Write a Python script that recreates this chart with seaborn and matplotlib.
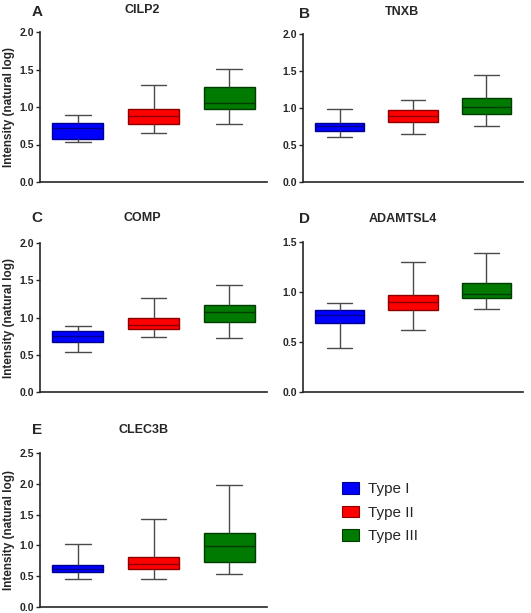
"""
Five-panel box plot figure: extracellular matrix protein intensity
(natural log) across Type I / II / III groups.
"""

import numpy as np
import matplotlib.pyplot as plt
import seaborn as sns
import pandas as pd

# -----------------------------------------------------------------------------
# Data: five-number summaries (min, Q1, median, Q3, max)
# -----------------------------------------------------------------------------

types = ['Type I', 'Type II', 'Type III']
genes = ['CILP2', 'TNXB', 'COMP', 'ADAMTSL4', 'CLEC3B']
letters = ['A', 'B', 'C', 'D', 'E']

cilp2 = [[0.53, 0.58, 0.72, 0.79, 0.89],
         [0.65, 0.78, 0.88, 0.98, 1.29],
         [0.78, 0.98, 1.06, 1.27, 1.51]]
tnxb = [[0.61, 0.69, 0.76, 0.80, 0.98],
        [0.65, 0.81, 0.89, 0.97, 1.11],
        [0.76, 0.92, 1.01, 1.14, 1.44]]
comp = [[0.535, 0.67, 0.75, 0.82, 0.89],
        [0.74, 0.84, 0.90, 1.00, 1.26],
        [0.73, 0.94, 1.08, 1.17, 1.44]]
adamtsl4 = [[0.44, 0.69, 0.77, 0.82, 0.89],
            [0.62, 0.82, 0.90, 0.97, 1.30],
            [0.83, 0.94, 0.98, 1.09, 1.39]]
clec3b = [[0.45, 0.565, 0.625, 0.685, 1.02],
          [0.45, 0.61, 0.70, 0.81, 1.43],
          [0.54, 0.73, 0.99, 1.20, 1.98]]

summaries = [cilp2, tnxb, comp, adamtsl4, clec3b]
ymax = [2.0, 2.0, 2.0, 1.5, 2.5]

palette = {'Type I': '#0000FF', 'Type II': '#FF0000', 'Type III': '#007A00'}
edges = {'Type I': '#00008B', 'Type II': '#8B0000', 'Type III': '#003C00'}

rows = []
for gene, summ in zip(genes, summaries):
    for t, vals in zip(types, summ):
        for v in vals:
            rows.append({'gene': gene, 'type': t, 'value': v})
df = pd.DataFrame(rows)

BOX_W = 0.67

# -----------------------------------------------------------------------------
# Layout (pixel boxes: left, top, right, bottom) and label positions
# -----------------------------------------------------------------------------

W, H = 531, 613
axes_px = [(40, 32, 267, 182), (303, 34, 523, 182),
           (40, 243, 267, 392), (303, 242, 523, 392),
           (40, 453, 267, 607)]
letter_px = [(37, 12), (304, 14), (37, 218), (304, 219), (37, 430)]
title_px = [(142, 10), (402, 12), (142, 218), (403, 219), (144, 430)]

sns.set_style('ticks')
plt.rcParams['font.family'] = ['Liberation Sans', 'DejaVu Sans']
plt.rcParams['font.weight'] = 'bold'

fig = plt.figure(figsize=(W / 100, H / 100), dpi=100)

legend_handles = None
for i, gene in enumerate(genes):
    l, t, r, b = axes_px[i]
    ax = fig.add_axes([l / W, 1 - b / H, (r - l) / W, (b - t) / H])
    sub = df[df['gene'] == gene]
    sns.boxplot(data=sub, x='type', y='value', hue='type', order=types,
                hue_order=types, palette=palette, saturation=1,
                whis=(0, 100), width=BOX_W, linecolor='#4a4a4a',
                linewidth=1.0, ax=ax, legend=(i == 4))

    for patch, t_ in zip(ax.patches, types):
        patch.set_edgecolor(edges[t_])
    # medians take the dark edge colour of their box
    for ln in ax.lines:
        x, y = np.asarray(ln.get_xdata()), np.asarray(ln.get_ydata())
        if len(x) == 2 and y[0] == y[1] and abs(abs(x[1] - x[0]) - BOX_W) < 1e-6:
            ln.set_color(edges[types[int(round(x.mean()))]])

    ax.set_xlim(-0.5, 2.5)
    ax.set_ylim(0, ymax[i])
    ticks = np.arange(0, ymax[i] + 0.01, 0.5)
    ax.set_yticks(ticks)
    ax.set_yticklabels([f'{v:.1f}' for v in ticks])
    ax.set_xticks([])
    ax.set_xlabel('')
    ax.tick_params(axis='y', length=3, width=1, labelsize=7.5, pad=1.5)
    for s in ['left', 'bottom']:
        ax.spines[s].set_linewidth(1.2)
    sns.despine(ax=ax)
    if i % 2 == 0:
        ax.set_ylabel('Intensity (natural log)', fontsize=8.5,
                      fontweight='bold', labelpad=3)
    else:
        ax.set_ylabel('')

    if i == 4:
        leg = ax.get_legend()
        legend_handles = leg.legend_handles
        legend_labels = [tx.get_text() for tx in leg.get_texts()]
        leg.remove()

    lx, ly = letter_px[i]
    fig.text(lx / W, 1 - ly / H, letters[i], fontsize=11, fontweight='bold',
             ha='center', va='center')
    tx_, ty_ = title_px[i]
    fig.text(tx_ / W, 1 - ty_ / H, gene, fontsize=9, fontweight='bold',
             ha='center', va='center')

for h, t_ in zip(legend_handles, types):
    h.set_facecolor(palette[t_])
    h.set_edgecolor(edges[t_])
    h.set_linewidth(0.8)

fig.legend(legend_handles, legend_labels, loc='upper left',
           bbox_to_anchor=(342 / W, 1 - 482 / H), frameon=False,
           prop={'weight': 'normal', 'size': 11}, handlelength=1.1,
           handleheight=0.8, handletextpad=0.6, labelspacing=0.62,
           borderpad=0, borderaxespad=0)

fig.savefig('out.png', dpi=100)
